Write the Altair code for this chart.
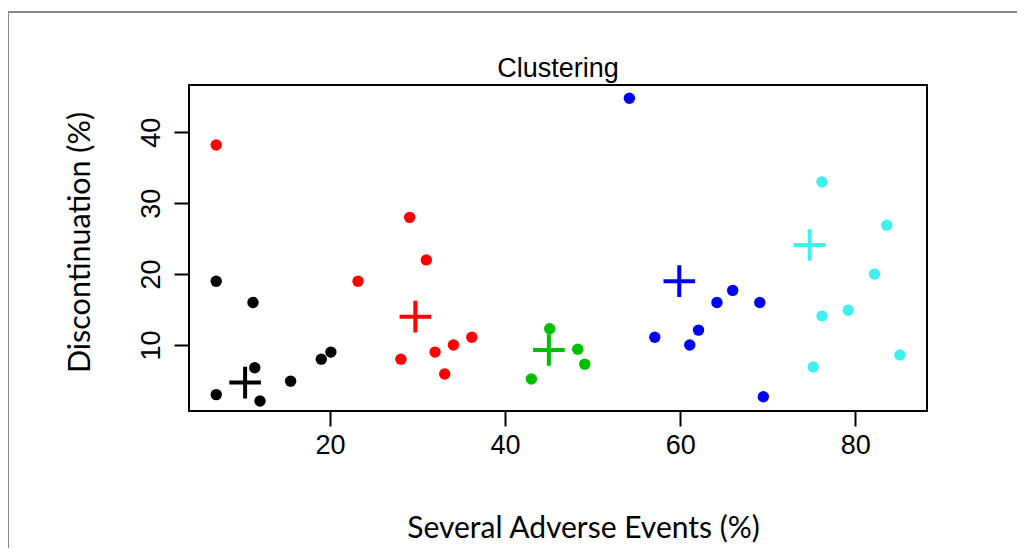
import altair as alt
import pandas as pd

# ---- data ----
clusters = ["1", "2", "3", "4", "5"]
colors = ["#000000", "#FF0000", "#00C000", "#0000F0", "#40F0F0"]

black_x = [7, 7, 11.2, 11.4, 12, 15.5, 19, 20.1]
black_y = [3, 19, 16, 6.8, 2.1, 4.9, 8, 9]
red_x = [7, 23.2, 29.1, 31, 28.1, 32, 34.1, 36.2, 33.1]
red_y = [38.2, 19, 28, 22, 8, 9, 10, 11.1, 5.9]
green_x = [43, 45.1, 48.3, 49.1]
green_y = [5.2, 12.3, 9.4, 7.3]
blue_x = [54.2, 57.1, 61.1, 62.1, 64.2, 66, 69.1, 69.5]
blue_y = [44.8, 11.1, 10, 12.1, 16, 17.7, 16, 2.7]
cyan_x = [76.2, 83.6, 82.2, 79.2, 76.2, 75.2, 85.1]
cyan_y = [33, 26.9, 20, 14.9, 14.1, 6.9, 8.6]

center_x = [10.3, 29.75, 45, 59.9, 74.8]
center_y = [4.7, 14, 9.3, 19, 24.1]

x_ticks = [20, 40, 60, 80]
y_ticks = [10, 20, 30, 40]
chart_title = "Clustering"

rows = []
for cl, xs, ys in zip(clusters,
                      [black_x, red_x, green_x, blue_x, cyan_x],
                      [black_y, red_y, green_y, blue_y, cyan_y]):
    for a, b in zip(xs, ys):
        rows.append({"x": a, "y": b, "cluster": cl})
points = pd.DataFrame(rows)
centers = pd.DataFrame({"x": center_x, "y": center_y, "cluster": clusters})

xs = alt.Scale(domain=[3.89, 88.2], nice=False, zero=False)
ys = alt.Scale(domain=[0.69, 46.67], nice=False, zero=False)
cs = alt.Scale(domain=clusters, range=colors)

x_axis = alt.Axis(values=x_ticks, title="Several Adverse Events (%)", grid=False,
                  domain=False, tickColor="black", tickWidth=2, tickSize=15,
                  labelFont="Liberation Sans", labelFontSize=27, labelColor="black",
                  labelPadding=6, titleFont="Lato", titleFontSize=30,
                  titleFontWeight="normal", titleColor="black", titlePadding=55,
                  titleX=394)
y_axis = alt.Axis(values=y_ticks, title="Discontinuation (%)", grid=False,
                  domain=False, tickColor="black", tickWidth=2, tickSize=15,
                  labelFont="Liberation Sans", labelFontSize=27, labelColor="black",
                  labelAngle=270, labelAlign="center", labelBaseline="bottom",
                  labelPadding=9, titleFont="Lato", titleFontSize=30.5,
                  titleFontWeight="normal", titleColor="black", titlePadding=42,
                  titleY=157)

base = alt.Chart(pd.DataFrame({"a": [0]}))
frame_top = base.mark_rule(color="#888888", strokeWidth=2).encode(
    x=alt.value(-181), x2=alt.value(828), y=alt.value(-73))
frame_left = base.mark_rule(color="#888888", strokeWidth=2).encode(
    x=alt.value(-181), y=alt.value(-73), y2=alt.value(463))
title_text = base.mark_text(font="Liberation Sans", fontSize=27, color="black",
                            align="center", baseline="alphabetic").encode(
    x=alt.value(369), y=alt.value(-8), text=alt.value(chart_title))

dots = alt.Chart(points).mark_point(filled=True, size=130, opacity=1).encode(
    x=alt.X("x:Q", scale=xs, axis=x_axis),
    y=alt.Y("y:Q", scale=ys, axis=y_axis),
    color=alt.Color("cluster:N", scale=cs, legend=None),
)

crosses = alt.Chart(centers).mark_point(
    shape="M-1,0L1,0M0,-1L0,1", filled=False, size=1000, strokeWidth=4, opacity=1
).encode(
    x=alt.X("x:Q", scale=xs),
    y=alt.Y("y:Q", scale=ys),
    color=alt.Color("cluster:N", scale=cs, legend=None),
)

chart = alt.layer(frame_top, frame_left, title_text, dots, crosses).properties(
    width=738, height=326,
    autosize=alt.AutoSizeParams(type="none"),
    padding={"left": 181, "top": 77, "right": 92, "bottom": 140},
).configure(background="white").configure_view(stroke="black", strokeWidth=2)

chart.save("out.html", embed_options={"renderer": "svg", "actions": False})
